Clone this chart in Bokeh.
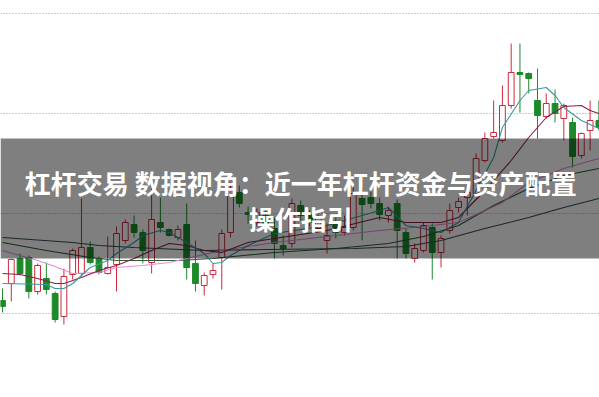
from bokeh.plotting import figure
from bokeh.models import Range1d, FixedTicker, BoxAnnotation, Label, ColumnDataSource
from bokeh.embed import file_html
from bokeh.resources import INLINE

# ---- data ----
open_ = [11.3, 13.0, 15.5, 15.6, 12.2, 13.5, 12.0, 9.7, 13.9, 14.0,
         16.6, 15.5, 14.0, 14.9, 17.3, 18.9, 18.1, 15.1, 19.1, 18.4,
         17.6, 18.9, 15.0, 12.8, 13.9, 15.6, 18.1, 22.1, 20.1, 19.1,
         19.8, 18.5, 16.8, 17.0, 20.8, 19.9, 18.5, 17.3, 19.1, 18.1,
         18.6, 21.5, 21.6, 21.0, 19.8, 21.0, 18.1, 15.5, 16.3, 18.6,
         16.1, 18.3, 20.6, 21.6, 22.0, 25.3, 27.7, 27.3, 30.8, 34.1,
         34.0, 31.3, 29.7, 31.0, 29.5, 29.1, 25.8, 28.3, 29.3]
close = [10.7, 15.4, 14.0, 12.2, 14.8, 12.4, 9.4, 13.7, 16.3, 16.6,
         15.1, 14.1, 14.6, 18.0, 19.1, 18.1, 16.3, 19.4, 18.6, 17.8,
         18.4, 14.6, 13.0, 13.8, 14.3, 18.0, 22.3, 21.0, 19.9, 20.1,
         18.5, 17.0, 16.5, 21.0, 19.8, 19.1, 19.5, 17.8, 18.1, 18.6,
         22.0, 20.9, 21.0, 19.9, 20.3, 18.3, 16.0, 16.5, 18.8, 16.1,
         17.5, 20.3, 21.2, 22.1, 25.5, 27.5, 28.1, 30.8, 34.1, 33.9,
         33.5, 29.8, 31.0, 30.0, 30.8, 25.7, 28.0, 29.3, 28.6]
high = [12.5, 15.5, 16.0, 15.8, 15.0, 15.1, 12.2, 14.5, 16.5, 21.5,
        17.2, 15.7, 17.7, 18.7, 19.4, 19.8, 18.4, 22.5, 21.6, 18.5,
        18.8, 21.0, 17.3, 14.1, 15.0, 18.4, 23.1, 22.8, 20.7, 20.5,
        20.3, 19.6, 17.8, 21.5, 21.3, 20.3, 19.9, 19.0, 19.6, 19.8,
        22.6, 22.6, 22.3, 21.6, 20.7, 21.4, 18.5, 17.0, 19.1, 19.0,
        17.8, 21.0, 21.6, 23.0, 26.0, 28.1, 31.3, 32.8, 37.0, 37.0,
        34.1, 34.5, 32.0, 32.4, 31.0, 29.6, 28.1, 31.3, 31.3]
low = [10.1, 11.2, 13.8, 11.5, 11.9, 11.9, 9.1, 8.9, 13.4, 13.7,
       14.9, 13.9, 13.9, 12.2, 17.0, 17.6, 15.0, 14.0, 18.1, 17.7,
       17.3, 13.4, 12.2, 11.8, 13.5, 12.4, 17.6, 20.6, 19.0, 18.7,
       18.1, 15.5, 15.8, 16.6, 19.3, 18.7, 18.1, 16.0, 17.5, 17.8,
       18.3, 17.3, 20.5, 19.3, 19.1, 15.5, 15.5, 15.1, 16.1, 13.4,
       14.6, 18.0, 20.1, 19.8, 21.6, 25.1, 27.5, 27.1, 30.5, 30.1,
       32.0, 27.5, 29.5, 29.1, 27.3, 24.6, 25.5, 26.3, 28.3]

# moving-average lines, read at sampled candle positions
ma_fast_idx = [0, 5, 6, 7, 8, 10, 12, 13, 15, 16, 18, 19, 20, 21, 23, 24, 25, 26, 28, 31,
               37, 43, 44, 46, 48, 50, 52, 54, 56, 57, 59, 60, 62, 63, 64, 66, 68]
ma_fast = [13.0, 12.9, 12.5, 12.5, 13.0, 14.6, 15.3, 16.0, 17.1, 17.8, 18.3, 18.1, 17.6, 17.1,
           16.0, 15.0, 15.1, 15.8, 16.8, 18.0, 18.8, 20.3, 20.6, 18.8, 18.5, 18.1, 19.1, 22.3,
           25.6, 28.6, 31.3, 32.3, 32.6, 31.8, 30.6, 29.3, 28.5]
ma_mid_idx = [0, 2, 4, 6, 7, 9, 11, 13, 15, 17, 19, 21, 23, 25, 28, 31, 37, 43, 46, 50,
              52, 55, 58, 60, 62, 64, 66, 67, 68]
ma_mid = [14.0, 13.9, 13.5, 13.0, 13.0, 13.6, 14.3, 14.8, 15.5, 16.3, 17.0, 16.8, 16.3, 16.1,
          17.1, 17.5, 18.3, 19.6, 19.1, 19.1, 19.6, 22.3, 25.3, 27.6, 29.6, 30.7, 30.8, 30.3, 30.0]
ma_pink_idx = [0, 2, 4, 6, 8, 11, 13, 16, 19, 21, 25, 31, 37, 43, 48, 52, 57, 60, 64, 68]
ma_pink = [16.3, 15.8, 15.3, 14.7, 14.0, 14.1, 14.6, 14.8, 15.1, 15.5, 16.3, 17.1, 17.7, 18.3,
           18.7, 19.1, 21.1, 23.1, 24.5, 25.5]
ma_green_idx = [0, 5, 10, 13, 20, 24, 31, 38, 44, 48, 52, 56, 60, 64, 68]
ma_green = [17.1, 16.3, 15.6, 15.3, 15.3, 15.5, 16.1, 16.5, 17.0, 17.7, 18.8, 20.8, 22.5, 23.8, 24.5]
ma_slow_idx = [0, 8, 11, 15, 23, 30, 40, 46, 50, 55, 60, 64, 68]
ma_slow = [17.6, 17.1, 16.8, 16.6, 16.3, 16.4, 16.5, 16.7, 17.3, 18.5, 19.6, 20.6, 21.5]

grid_levels = [10, 20, 30, 40]

title_line1 = "杠杆交易 数据视角：近一年杠杆资金与资产配置"
title_line2 = "操作指引"

# ---- figure ----
p = figure(width=599, height=397, output_backend="svg", toolbar_location=None,
           x_range=Range1d(-0.23, 68.07), y_range=Range1d(1.6, 41.3),
           min_border=0)
p.xaxis.visible = False
p.yaxis.visible = False
p.outline_line_color = None
p.background_fill_color = "white"
p.border_fill_color = "white"
p.xgrid.visible = False
p.ygrid.ticker = FixedTicker(ticks=grid_levels)
p.ygrid.grid_line_dash = "1 2"
p.ygrid.grid_line_color = "#9a9a9a"
p.ygrid.grid_line_width = 1

RED = "#d0283c"
GREEN = "#1d8a2a"

idx = list(range(len(open_)))
up = [c >= o for o, c in zip(open_, close)]
src = ColumnDataSource(dict(
    x=idx, o=open_, c=close, h=high, l=low,
    top=[max(o, c) for o, c in zip(open_, close)],
    bot=[min(o, c) for o, c in zip(open_, close)],
    col=[RED if u else GREEN for u in up],
    fill=["white" if u else GREEN for u in up],
))
p.segment(x0="x", y0="l", x1="x", y1="h", color="col", line_width=1, source=src)
p.vbar(x="x", width=0.66, top="top", bottom="bot", fill_color="fill",
       line_color="col", line_width=1, source=src)

p.line(ma_slow_idx, ma_slow, color="#2f4f58", line_width=1.1)
p.line(ma_green_idx, ma_green, color="#2e5a35", line_width=1.1)
p.line(ma_pink_idx, ma_pink, color="#e58ad8", line_width=1.1)
p.line(ma_mid_idx, ma_mid, color="#8a1f45", line_width=1.1)
p.line(ma_fast_idx, ma_fast, color="#3a9aa0", line_width=1.1)

banner = BoxAnnotation(bottom=15.5, top=27.5, fill_color="black", fill_alpha=0.5,
                       line_color=None)
p.add_layout(banner)

for text, y in [(title_line1, 23.1), (title_line2, 19.5)]:
    p.add_layout(Label(x=34, y=y, text=text, text_align="center", text_baseline="middle",
                       text_color="white", text_font="Noto Sans CJK SC",
                       text_font_style="bold", text_font_size="26px"))

open("out.html", "w").write(file_html(p, INLINE))
